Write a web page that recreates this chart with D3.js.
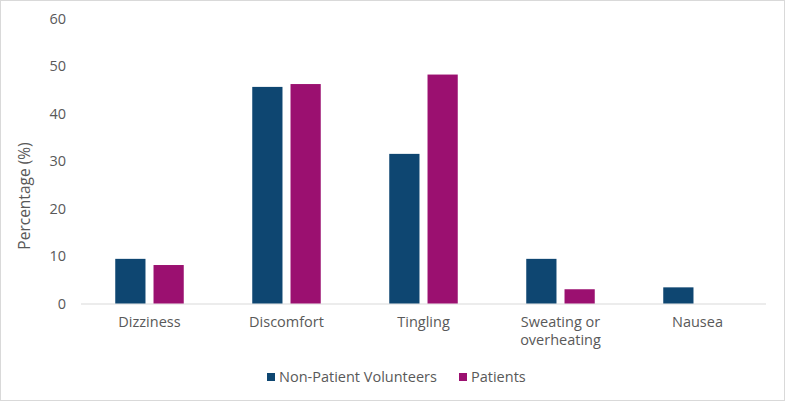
<!DOCTYPE html>
<html>
<head>
<meta charset="utf-8">
<script src="https://cdn.jsdelivr.net/npm/d3@7"></script>
<style>
  body { margin: 0; background: #fff; }
  text { font-family: "Open Sans", "Liberation Sans", sans-serif; fill: #595959; }
</style>
</head>
<body>
<svg id="chart" width="787" height="405"></svg>
<script>
// Chart data
const categories = ["Dizziness", "Discomfort", "Tingling", "Sweating or overheating", "Nausea"];
const seriesNames = ["Non-Patient Volunteers", "Patients"];
const npvValues = [9.4, 45.6, 31.5, 9.4, 3.4];
const patientValues = [8.1, 46.2, 48.2, 3.0, 0];
const yTicks = [0, 10, 20, 30, 40, 50, 60];
const colors = ["#0e4671", "#9b1070"];

const svg = d3.select("#chart");

// Outer chart border
svg.append("rect")
    .attr("x", 0.5).attr("y", 0.5)
    .attr("width", 784).attr("height", 400)
    .attr("fill", "#fff")
    .attr("stroke", "#d9d9d9");

const margin = { top: 18.5, left: 81, right: 21, bottom: 101.5 };
const width = 787 - margin.left - margin.right;
const height = 405 - margin.top - margin.bottom;

const g = svg.append("g")
    .attr("transform", "translate(" + margin.left + "," + margin.top + ")");

const x0 = d3.scaleBand().domain(categories).range([0, width]).paddingInner(0.5).paddingOuter(0.25);
const x1 = d3.scaleBand().domain(seriesNames).range([0, x0.bandwidth()]).paddingInner(0.21);
const y = d3.scaleLinear().domain([0, 60]).range([height, 0]);

// Y axis labels (no line)
const yAxis = g.append("g")
    .call(d3.axisLeft(y).tickValues(yTicks).tickSize(0).tickPadding(15));
yAxis.select(".domain").remove();
yAxis.selectAll("text").style("font-size", "14.5px").attr("fill", "#595959");

// Baseline
g.append("line")
    .attr("x1", 0).attr("x2", width)
    .attr("y1", y(0) + 0.5).attr("y2", y(0) + 0.5)
    .attr("stroke", "#d9d9d9").attr("stroke-width", 1.2);

// Bars
const rows = categories.map((c, i) => ({ cat: c, vals: [npvValues[i], patientValues[i]] }));
g.selectAll(".grp")
    .data(rows)
    .enter().append("g")
    .attr("transform", d => "translate(" + x0(d.cat) + ",0)")
    .selectAll("rect")
    .data(d => d.vals.map((v, j) => ({ s: seriesNames[j], v: v, j: j })))
    .enter().append("rect")
    .attr("x", d => x1(d.s))
    .attr("width", x1.bandwidth())
    .attr("y", d => y(d.v))
    .attr("height", d => y(0) - y(d.v))
    .attr("fill", d => colors[d.j]);

// Category labels
const labelLines = { "Sweating or overheating": ["Sweating or", "overheating"] };
categories.forEach(c => {
    const lines = labelLines[c] || [c];
    const t = g.append("text")
        .attr("x", x0(c) + x0.bandwidth() / 2)
        .attr("y", height + 23.5)
        .attr("text-anchor", "middle")
        .style("font-size", "14.5px");
    lines.forEach((l, k) => {
        t.append("tspan")
            .attr("x", x0(c) + x0.bandwidth() / 2)
            .attr("dy", k === 0 ? 0 : 18)
            .text(l);
    });
});

// Y axis title
svg.append("text")
    .attr("transform", "translate(30,196) rotate(-90)")
    .attr("text-anchor", "middle")
    .style("font-size", "15.5px")
    .text("Percentage (%)");

// Legend
const legend = [{ name: seriesNames[0], x: 267 }, { name: seriesNames[1], x: 459 }];
legend.forEach((d, i) => {
    svg.append("rect")
        .attr("x", d.x).attr("y", 373)
        .attr("width", 8).attr("height", 8)
        .attr("fill", colors[i]);
    svg.append("text")
        .attr("x", d.x + 12).attr("y", 382)
        .style("font-size", "14.5px")
        .text(d.name);
});
</script>
</body>
</html>
